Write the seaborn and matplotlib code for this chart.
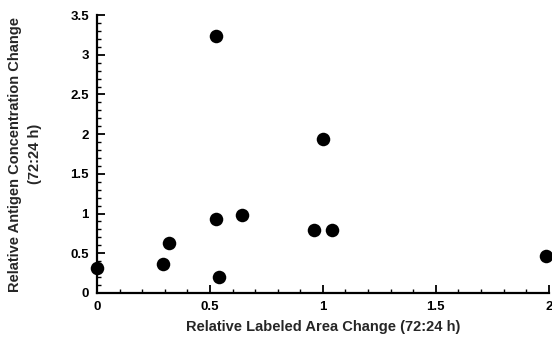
import matplotlib
matplotlib.use("Agg")
import matplotlib.pyplot as plt
import seaborn as sns
import pandas as pd
from matplotlib.ticker import MultipleLocator

area_change = [0.0, 0.29, 0.32, 0.525, 0.525, 0.54, 0.64, 1.0, 0.96, 1.04, 1.99]
antigen_change = [0.31, 0.365, 0.63, 3.23, 0.93, 0.205, 0.98, 1.94, 0.79, 0.79, 0.47]
x_ticks = [0, 0.5, 1, 1.5, 2]
y_ticks = [0, 0.5, 1, 1.5, 2, 2.5, 3, 3.5]

df = pd.DataFrame({"x": area_change, "y": antigen_change})

sns.set_style("white")
plt.rcParams['font.family'] = ['Liberation Sans', 'DejaVu Sans']

fig = plt.figure(figsize=(5.52, 3.5), dpi=100)
ax = fig.add_axes([0.176, 0.163, 0.818, 0.794])
sns.scatterplot(data=df, x="x", y="y", ax=ax, color="black", s=95,
                edgecolor="black", linewidth=0, clip_on=False, zorder=5)

ax.set_xlim(0, 2)
ax.set_ylim(0, 3.5)
ax.set_xticks(x_ticks)
ax.set_xticklabels([f"{t:g}" for t in x_ticks])
ax.set_yticks(y_ticks)
ax.set_yticklabels([f"{t:g}" for t in y_ticks])
ax.xaxis.set_minor_locator(MultipleLocator(0.1))
ax.yaxis.set_minor_locator(MultipleLocator(0.1))
ax.tick_params(which="major", direction="in", length=6, width=1.3, colors="black",
               labelsize=9.5, pad=6, left=True, bottom=True)
ax.tick_params(which="minor", direction="in", length=3, width=1, colors="black",
               left=True, bottom=True)
for lab in ax.get_xticklabels() + ax.get_yticklabels():
    lab.set_fontweight("bold")

for side in ["top", "right"]:
    ax.spines[side].set_visible(False)
for side in ["left", "bottom"]:
    ax.spines[side].set_color("black")
    ax.spines[side].set_linewidth(1.6)

ax.set_xlabel("Relative Labeled Area Change (72:24 h)", fontsize=10.5,
              fontweight="bold", labelpad=5)
ax.set_ylabel("Relative Antigen Concentration Change\n(72:24 h)", fontsize=10.5,
              fontweight="bold", labelpad=20, linespacing=1.6)

fig.savefig("out.png", dpi=100)
